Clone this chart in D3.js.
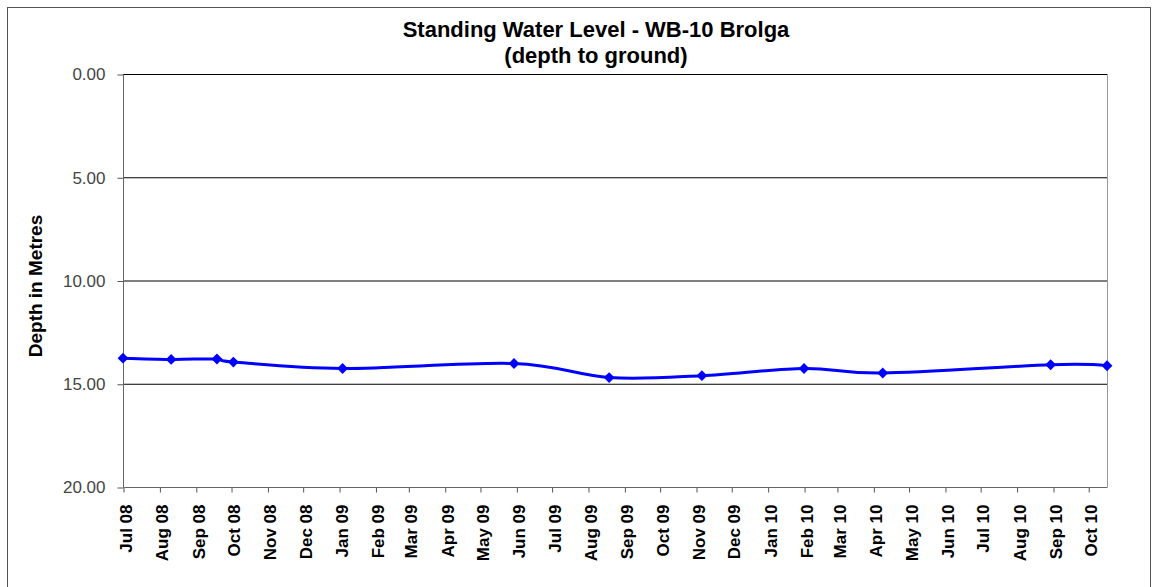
<!DOCTYPE html>
<html>
  <head>
    <meta charset="utf-8">
    <title>Standing Water Level - WB-10 Brolga</title>
    <script src="https://d3js.org/d3.v7.min.js"></script>
    <style>
      body { margin: 0; background: #fff; }
      text { font-family: Arial, "Liberation Sans", sans-serif; }
      .domain { display: none; }
    </style>
  </head>
  <body>
    <svg width="1156" height="587"></svg>

  <script>
    // sample dates and depth readings (metres below ground)
    var sampleDates = ["2008-07-01", "2008-08-11", "2008-09-19", "2008-10-03", "2009-01-04",
                       "2009-05-30", "2009-08-19", "2009-11-06", "2010-02-01", "2010-04-09",
                       "2010-08-30", "2010-10-17"];
    var depths = [13.76, 13.82, 13.80, 13.95, 14.26, 14.02, 14.70, 14.61, 14.26, 14.48, 14.08, 14.13];
    var yTicks = [0, 5, 10, 15, 20];

    var svg = d3.select("svg");
    var parse = d3.utcParse("%Y-%m-%d");
    var data = sampleDates.map(function(d, i) { return { date: parse(d), depth: depths[i] }; });

    // chart border
    svg.append("rect")
       .attr("x", 7.5).attr("y", 7.5)
       .attr("width", 1143).attr("height", 590)
       .attr("fill", "none")
       .attr("stroke", "#555");

    var plotL = 123, plotT = 74, plotR = 1107, plotB = 487;

    var x = d3.scaleUtc()
              .domain([parse("2008-07-01"), parse("2010-10-17")])
              .range([plotL, plotR]);
    var y = d3.scaleLinear().domain([0, 20]).range([plotT, plotB]);

    // title
    svg.append("text")
       .attr("x", 596).attr("y", 37)
       .attr("text-anchor", "middle")
       .attr("font-size", "22px").attr("font-weight", "bold")
       .text("Standing Water Level - WB-10 Brolga");
    svg.append("text")
       .attr("x", 596).attr("y", 63)
       .attr("text-anchor", "middle")
       .attr("font-size", "22px").attr("font-weight", "bold")
       .text("(depth to ground)");

    // gridlines
    svg.append("g").selectAll("line")
       .data(yTicks.slice(0, 4))
       .enter().append("line")
       .attr("x1", plotL).attr("x2", plotR)
       .attr("y1", function(d) { return y(d) + 0.5; })
       .attr("y2", function(d) { return y(d) + 0.5; })
       .attr("stroke", "#000");

    // plot area right edge
    svg.append("line")
       .attr("x1", plotR + 0.5).attr("x2", plotR + 0.5)
       .attr("y1", plotT).attr("y2", plotB)
       .attr("stroke", "#999");

    // y axis
    var yAxis = svg.append("g")
       .attr("transform", "translate(" + (plotL + 0.5) + ",0.5)")
       .call(d3.axisLeft(y).tickValues(yTicks).tickFormat(d3.format(".2f")).tickSize(6).tickPadding(12));
    yAxis.selectAll("text").attr("font-size", "17px").attr("fill", "#444");
    yAxis.selectAll(".tick line").attr("stroke", "#555");
    yAxis.append("line")
       .attr("y1", plotT).attr("y2", plotB)
       .attr("stroke", "#666");

    svg.append("text")
       .attr("transform", "translate(42," + 286 + ") rotate(-90)")
       .attr("text-anchor", "middle")
       .attr("font-size", "19px").attr("font-weight", "bold")
       .text("Depth in Metres");

    // x axis
    var xAxis = svg.append("g")
       .attr("transform", "translate(0.5," + (plotB + 0.5) + ")")
       .call(d3.axisBottom(x).ticks(d3.utcMonth.every(1)).tickFormat(d3.utcFormat("%b %y")).tickSize(5));
    xAxis.selectAll(".tick line").attr("stroke", "#555");
    xAxis.selectAll("text")
       .attr("transform", "rotate(-90)")
       .attr("text-anchor", "end")
       .attr("x", -17).attr("y", 2)
       .attr("dy", "0.35em")
       .attr("font-size", "17px").attr("font-weight", "bold")
       .attr("fill", "#000");
    xAxis.append("line")
       .attr("x1", plotL).attr("x2", plotR)
       .attr("stroke", "#666");

    // series
    var line = d3.line()
       .x(function(d) { return x(d.date); })
       .y(function(d) { return y(d.depth); })
       .curve(d3.curveCardinal.tension(0));

    svg.append("path")
       .datum(data)
       .attr("d", line)
       .attr("fill", "none")
       .attr("stroke", "#0000ff")
       .attr("stroke-width", 3);

    svg.append("g").selectAll("path")
       .data(data)
       .enter().append("path")
       .attr("transform", function(d) { return "translate(" + x(d.date) + "," + y(d.depth) + ")"; })
       .attr("d", d3.symbol().type(d3.symbolDiamond2).size(75))
       .attr("fill", "#0000ff");
  </script>
  </body>
</html>
